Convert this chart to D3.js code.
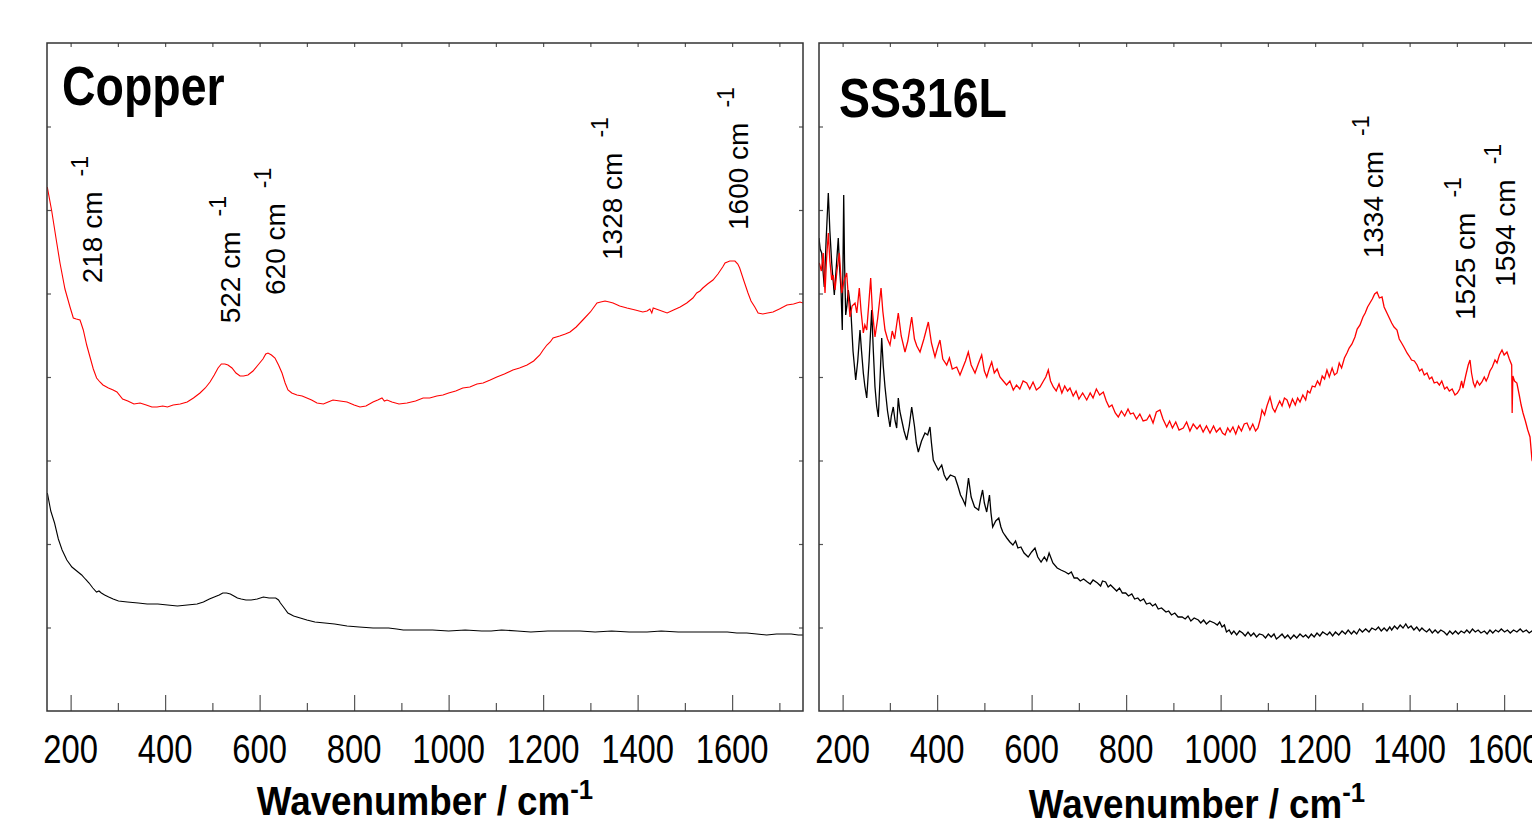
<!DOCTYPE html>
<html>
<head>
<meta charset="UTF-8">
<title>Raman spectra - Copper / SS316L</title>
<script src="https://cdn.jsdelivr.net/npm/d3@7"></script>
<style>
    body {
        margin: 0;
        background: #fff;
        overflow: hidden;
    }
    svg {
        display: block;
        font-family: "Liberation Sans", Arial, sans-serif;
    }
    .frame { fill: none; stroke: #333; stroke-width: 1.5; }
    .tick line { stroke: #555; stroke-width: 1.2; }
    .domain { display: none; }
</style>
</head>
<body>
<script>
    // x in cm-1, y in arbitrary intensity units
    const wnDomain = [150, 1750];
    const intensityDomain = [0, 668];
    const majorTicks = [200, 400, 600, 800, 1000, 1200, 1400, 1600];
    const minorTicks = [300, 500, 700, 900, 1100, 1300, 1500, 1700];
    const topTicks = d3.range(200, 1701, 100);
    const yTicks = [83.5, 167, 250.5, 334, 417.5, 501, 584.5];

    // Copper
    const copperRed = [[150.6,524],[160,500],[170,470],[177.5,448],[188,422],[198.7,404],[205.7,393],[212,392],[219.8,391],[222,388],[226.8,381],[234,366],[241,354],[248,342],[255,333],[262,329],[268.5,326],[280,323],[290,321],[298,319],[310,312],[321,310],[334,307],[347,308],[360,306],[372,304],[383,304],[395,305],[405,304],[417,306],[432,307],[446.7,309],[460,313],[473.8,318],[485,323],[495,329],[504,336],[512,343],[519,347],[526.5,347],[533,346],[541.5,343],[550,338],[558.5,335],[566,335],[575.4,336],[586,340],[596.6,346],[607,352],[613,357],[617.7,358],[625,356],[632.5,353],[640,346],[647.4,338],[654,328],[660,321],[668,318],[679,316],[690,315],[700,313],[710,311],[721.4,308],[735,307],[745,309],[755.3,311],[770,310],[785,309],[800,306],[812.4,304],[825,305],[840,309],[850,311],[859,313],[864,310],[869.6,311],[880,309],[895,307],[912,308],[930,310],[946,313],[960,313],[975,315],[988,316],[1000,318],[1015,320],[1030,323],[1045,324],[1060,327],[1073,328],[1088,331],[1102,334],[1118,337],[1136,341],[1150,343],[1166,346],[1180,350],[1193,356],[1200,361],[1208,366],[1215,369],[1221,373],[1235,375],[1247,377],[1257,379],[1270,384],[1284,391],[1300,399],[1314,408],[1322,409],[1331,410],[1340,409],[1348,408],[1362,405],[1377.5,403],[1395,401],[1411,399],[1420,400],[1426,402],[1430,398],[1433,403],[1445,401],[1462.5,398],[1476,401],[1490,404],[1504,408],[1517,413],[1525,418],[1532,420],[1538,423],[1548,427],[1559.5,431],[1570,437],[1580,444],[1585,448],[1595,450],[1606,450],[1612,447],[1616,443],[1625,430],[1633.6,418],[1640,410],[1648,404],[1655,398],[1665,397],[1675,398],[1686.5,399],[1700,402],[1716,406],[1730,407],[1743.6,409],[1750,408]];
    const copperBlack = [[150.8,218],[158,200],[166,188],[174,172],[182,161],[192,151],[202.7,144],[213,140],[223.4,136],[231,132],[239,128],[247,123],[254.8,119],[260,120],[265,118],[272,116],[280.6,114],[290,112],[301.3,110],[320,109],[343,108],[362,107],[384.5,107],[405,106],[426,105],[447,106],[467.7,107],[481,109],[493.7,112],[504,114],[514.5,116],[522,118],[530,118],[538,117],[545.6,115],[553,113],[561,112],[571,111],[582,111],[595,112],[608,114],[620,113],[634,113],[640,111],[644,108],[652,103],[659.8,98],[672,95],[685.9,93],[700,91],[717,89],[738,88],[758.7,87],[785,85],[810.6,84],[840,83],[873,83],[890,82],[904,81],[935,81],[966,81],[1000,80],[1035,81],[1070,80],[1090,80],[1112,81],[1145,80],[1174,79],[1210,80],[1245,80],[1278,80],[1310,79],[1345,80],[1382,79],[1420,79],[1450,80],[1486,79],[1520,79],[1555,79],[1590,79],[1610,78],[1631,78],[1652,77],[1673,76],[1694,77],[1710,77],[1725,77],[1740,76],[1750,76]];
    // peak, label anchor [cm-1, intensity]
    const copperPeaks = [
        { peak: 218, at: [265.8, 427.7] },
        { peak: 522, at: [558.5, 387.7] },
        { peak: 620, at: [653.7, 416] },
        { peak: 1328, at: [1366.3, 451] },
        { peak: 1600, at: [1633.6, 481] }
    ];

    // SS316L
    const ssRed = [[150.6,448],[155,440],[159,458],[162.7,418],[166,452],[169.7,478],[173,450],[176.9,431],[180,436],[183.9,421],[188,440],[193,458],[195.5,440],[198,418],[203,430],[208.6,438],[212,415],[215.6,394],[220,405],[226.2,408],[230,398],[235.3,423],[239,400],[243.8,378],[247,386],[251,381],[255,405],[259.4,433],[263,400],[268.5,374],[274,392],[281.3,423],[285,400],[289.7,381],[295,372],[300.3,366],[305,380],[310,372],[317.8,398],[324,375],[332,359],[338,370],[346.2,394],[352,372],[357,365],[363.8,359],[372,372],[381.4,389],[388,368],[395.5,354],[400,362],[406,371],[412,352],[420.3,346],[426,353],[432,342],[441.4,344],[448.4,336],[455,344],[460,350],[466,359],[472,346],[480.2,338],[487,347],[494.3,356],[500,340],[505,334],[510,342],[515.5,349],[521,338],[527,342],[533,334],[540,330],[547,326],[554,330],[561.2,321],[568,326],[575,322],[582,330],[589.6,328],[596,322],[603,329],[610,321],[617.7,324],[625,330],[630,334],[635.3,341],[640,330],[645.9,324],[652,320],[658,327],[664,318],[670,325],[676,320],[681.2,323],[688,315],[694,320],[700,312],[708,318],[716.6,311],[724,318],[730,313],[737,322],[744,316],[751.7,319],[758,310],[764,304],[770,306],[777,298],[783.4,294],[790,300],[797,295],[804,302],[809,297],[815.2,298],[822,292],[829,297],[836,290],[843.5,291],[850,296],[857,288],[864,299],[871.7,301],[878,292],[885.9,284],[892,290],[898,283],[905,289],[912,281],[921,283],[928,289],[935,280],[942,287],[950,282],[956.4,286],[963,279],[970,285],[977.5,278],[985,285],[991,279],[998.7,283],[1004,278],[1009.4,276],[1015,283],[1020,279],[1026,284],[1032,277],[1038,285],[1044,280],[1050,287],[1055.8,288],[1062,281],[1068,287],[1074,280],[1079,283],[1084,292],[1087.6,301],[1093,296],[1098,305],[1104.5,314],[1110,303],[1115,299],[1119.3,304],[1125,310],[1130,305],[1135,313],[1140.5,311],[1146,304],[1152,312],[1158,306],[1163,313],[1168,309],[1174,316],[1180,311],[1184,320],[1189,318],[1194,325],[1199.7,324],[1205,330],[1210,326],[1215,335],[1220,332],[1225,341],[1230,334],[1236,343],[1241,336],[1246.3,338],[1251,348],[1256,343],[1262,353],[1267.4,358],[1272,363],[1278,367],[1284.3,374],[1289,382],[1295,386],[1301.3,394],[1306,398],[1311,404],[1316,408],[1321,412],[1326,417],[1331,419],[1336,413],[1341.6,414],[1346,404],[1352,398],[1357,393],[1362,388],[1367,384],[1373.3,381],[1378,372],[1383,368],[1389,363],[1394.5,358],[1399,355],[1404,351],[1410,350],[1415.7,346],[1421,340],[1426,342],[1431,336],[1436.8,338],[1442,332],[1447,334],[1452,328],[1458,329],[1463,326],[1468,330],[1474,322],[1479,324],[1484,320],[1490,322],[1496,316],[1501,318],[1506,322],[1510,330],[1513,323],[1519,336],[1524,346],[1527.8,351],[1531,338],[1535,328],[1538.4,324],[1543,330],[1548,326],[1553,329],[1558,334],[1562,330],[1565.9,334],[1570,340],[1575,344],[1580.7,351],[1585,348],[1590,356],[1595.5,361],[1600,356],[1606,359],[1611,352],[1616,346],[1617,298],[1618.5,335],[1622,330],[1627,328],[1632,316],[1636,306],[1640,298],[1645,290],[1650,281],[1654.8,274],[1659,251],[1680,225],[1710,205],[1750,195]];
    const ssBlack = [[150,473],[152.5,462],[155.7,458],[158.5,440],[161.2,424],[165,470],[169.7,518],[173,480],[176.9,448],[180,430],[182.4,416],[186,440],[190.8,473],[194,440],[196.6,421],[199.3,381],[202.3,516],[204,450],[206.5,396],[209,405],[212,421],[215,410],[217.7,398],[222,360],[227.7,331],[232,350],[236.8,381],[240,360],[243.8,338],[247,325],[251,313],[256,350],[261.5,401],[265,360],[268.5,324],[272,305],[275.5,294],[279,330],[282.7,373],[286,345],[289.7,324],[295,300],[300.3,284],[303,295],[307.2,304],[311,290],[314.4,283],[317.8,313],[321,300],[325,291],[330,280],[335.6,271],[341,285],[346.2,304],[352,285],[356,268],[360.2,259],[367,270],[374.3,278],[380,276],[384.9,284],[388,268],[391.9,251],[397,246],[402.5,241],[409.7,246],[415,236],[420.3,231],[428,236],[437.8,234],[444,225],[449.5,216],[454,212],[459.6,206],[463,220],[466.4,233],[472,214],[479.3,204],[487.8,201],[492,212],[496.2,221],[500,208],[504.9,199],[508,208],[510.8,216],[514,198],[517.6,184],[524,190],[530.5,193],[535,184],[539,179],[543,176],[547.5,173],[554,169],[560.4,166],[566,170],[571,163],[577.3,164],[584,158],[592.7,154],[600,159],[607.1,163],[613,154],[620,149],[627,154],[632,150],[637,158],[645,148],[654.1,143],[662,141],[671.3,139],[678,137],[684,139],[690,133],[696.7,133],[703,130],[710,132],[718,129],[724,127],[730,131],[739.4,128],[746,125],[750,130],[756.6,129],[762,124],[767,126],[773.5,123],[780,120],[786,123],[792,118],[799.1,118],[805,115],[812,117],[818,112],[824.7,113],[830,110],[837,112],[843,107],[850.3,108],[856,105],[862,107],[868,102],[875,103],[884.4,99],[890,100],[896,96],[903,98],[910,94],[918.5,94],[925,92],[931,95],[937,90],[944,93],[952.8,91],[958,88],[964,91],[970,87],[977,90],[986.8,88],[993,86],[998,89],[1003,84],[1008,86],[1012.4,79],[1018,81],[1023,77],[1028,80],[1034,76],[1040,80],[1046.5,78],[1052,75],[1058,79],[1064,75],[1070,78],[1076,74],[1082,77],[1089.3,76],[1095,73],[1101,77],[1107,74],[1113,77],[1118,72],[1123.3,74],[1130,77],[1136,73],[1142,76],[1148,72],[1155,76],[1161,73],[1168,77],[1174.6,74],[1180,76],[1186,73],[1192,77],[1198,74],[1204,78],[1210,75],[1216,79],[1225.6,76],[1231,79],[1237,75],[1243,79],[1250,76],[1257,80],[1264,77],[1270,81],[1276.8,77],[1282,80],[1288,77],[1294,82],[1300,79],[1307,82],[1314,79],[1320,83],[1328,81],[1334,84],[1340,80],[1346,83],[1352,80],[1358,84],[1362,81],[1368,85],[1374,82],[1380,86],[1386,83],[1391.9,87],[1397,83],[1403,85],[1409,81],[1415,84],[1421,80],[1426,83],[1430.4,81],[1436,79],[1442,82],[1448,78],[1454,81],[1460,78],[1466,81],[1473,79],[1479,76],[1485,80],[1491,77],[1497,80],[1503,77],[1509,80],[1515.7,78],[1521,81],[1527,78],[1533,82],[1539,79],[1545,81],[1551,78],[1558.2,80],[1564,77],[1570,81],[1576,78],[1582,81],[1588,79],[1594,82],[1601,79],[1607,81],[1613,78],[1620,81],[1627,79],[1634,82],[1640,79],[1647,81],[1653,78],[1659,80],[1680,80],[1710,79],[1750,79]];
    const ssPeaks = [
        { peak: 1334, at: [1343.7, 452.7] },
        { peak: 1525, at: [1538.4, 391] },
        { peak: 1594, at: [1623, 424.3] }
    ];

    const width = 1532, height = 825;
    const panelW = 756, plotTop = 43, plotBottom = 711;

    const svg = d3.select("body").append("svg")
        .attr("width", width).attr("height", height);

    const y = d3.scaleLinear().domain(intensityDomain).range([plotBottom, plotTop]);

    function panel(id, left, name, nameX, nameY, titleY, red, black, peaks, lw) {
        const x = d3.scaleLinear().domain(wnDomain).range([left, left + panelW]);
        const g = svg.append("g");

        g.append("clipPath").attr("id", "clip-" + id)
            .append("rect")
            .attr("x", left).attr("y", plotTop)
            .attr("width", panelW).attr("height", plotBottom - plotTop);

        // inward ticks on all four sides
        g.append("g").attr("transform", `translate(0,${plotBottom})`)
            .call(d3.axisBottom(x).tickValues(majorTicks).tickSize(-16).tickFormat(""));
        g.append("g").attr("transform", `translate(0,${plotBottom})`)
            .call(d3.axisBottom(x).tickValues(minorTicks).tickSize(-8).tickFormat(""));
        g.append("g").attr("transform", `translate(0,${plotTop})`)
            .call(d3.axisTop(x).tickValues(topTicks).tickSize(-4).tickFormat(""));
        g.append("g").attr("transform", `translate(${left},0)`)
            .call(d3.axisLeft(y).tickValues(yTicks).tickSize(-4).tickFormat(""));
        g.append("g").attr("transform", `translate(${left + panelW},0)`)
            .call(d3.axisRight(y).tickValues(yTicks).tickSize(-4).tickFormat(""));

        g.selectAll("text.tl").data(majorTicks).join("text")
            .attr("class", "tl")
            .attr("transform", d => `translate(${x(d)},763) scale(0.8,1)`)
            .attr("text-anchor", "middle")
            .attr("font-size", 41)
            .attr("fill", "#000")
            .text(d => d);

        const line = d3.line().x(d => x(d[0])).y(d => y(d[1]));
        const curves = g.append("g").attr("clip-path", `url(#clip-${id})`);
        curves.append("path").datum(black)
            .attr("d", line).attr("fill", "none")
            .attr("stroke", "#000").attr("stroke-width", lw);
        curves.append("path").datum(red)
            .attr("d", line).attr("fill", "none")
            .attr("stroke", "#ff0000").attr("stroke-width", lw);

        g.append("rect").attr("class", "frame")
            .attr("x", left).attr("y", plotTop)
            .attr("width", panelW).attr("height", plotBottom - plotTop);

        // sample name
        g.append("text")
            .attr("transform", `translate(${nameX},${nameY}) scale(0.83,1)`)
            .attr("font-size", 56).attr("font-weight", "bold")
            .text(name);

        // peak labels, rotated
        const pl = g.selectAll("text.pk").data(peaks).join("text")
            .attr("class", "pk")
            .attr("transform", d => `translate(${x(d.at[0])},${y(d.at[1])}) rotate(-90)`)
            .attr("font-size", 28);
        pl.append("tspan").text(d => d.peak + " cm");
        pl.append("tspan").attr("font-size", 23).attr("dx", 15).attr("dy", -14).text("-1");

        // x axis title
        const t = g.append("text")
            .attr("transform", `translate(${left + panelW / 2},${titleY}) scale(0.92,1)`)
            .attr("text-anchor", "middle")
            .attr("font-size", 40).attr("font-weight", "bold");
        t.append("tspan").text("Wavenumber / cm");
        t.append("tspan").attr("font-size", 28).attr("dy", -16).text("-1");
    }

    panel("cu", 47, "Copper", 62, 105, 815, copperRed, copperBlack, copperPeaks, 1.1);
    panel("ss", 819, "SS316L", 839, 117, 818, ssRed, ssBlack, ssPeaks, 1.3);
</script>
</body>
</html>
